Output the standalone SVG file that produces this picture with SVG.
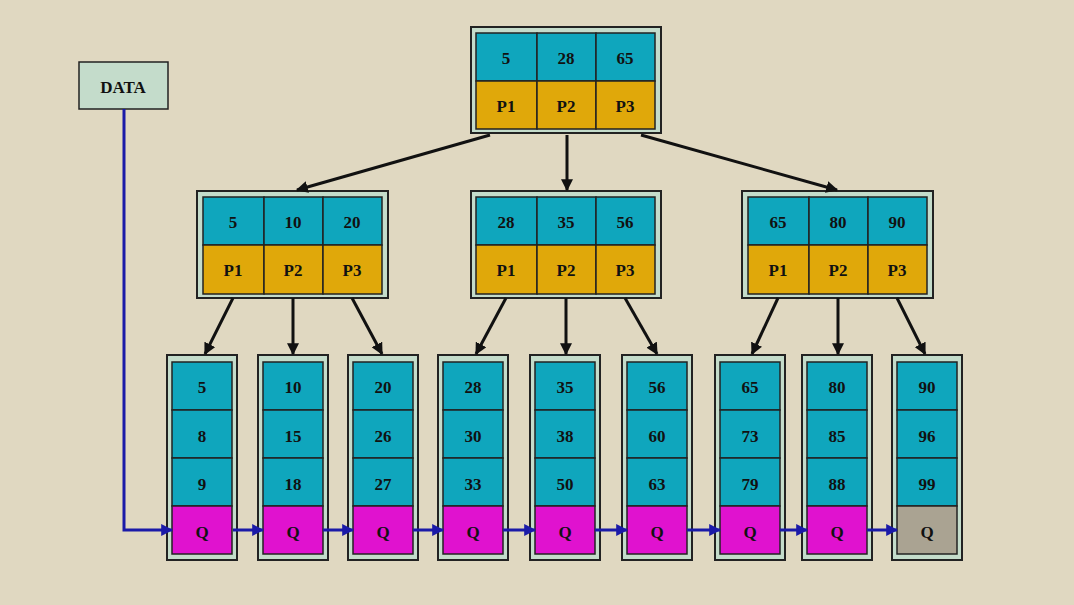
<svg xmlns="http://www.w3.org/2000/svg" width="1074" height="605" viewBox="0 0 1074 605">
<style>
text{font-family:"Liberation Serif",serif;font-weight:bold;font-size:17px;fill:#111;text-anchor:middle;dominant-baseline:central}
.o{fill:#c4dccb;stroke:#222;stroke-width:2}
.k{fill:#0fa6bd;stroke:#222;stroke-width:1.5}
.p{fill:#e0a80a;stroke:#222;stroke-width:1.5}
.q{fill:#e012cf;stroke:#222;stroke-width:1.5}
.g{fill:#aaa392;stroke:#222;stroke-width:1.5}
.a{stroke:#111;stroke-width:3;fill:none;marker-end:url(#ab)}
.b{stroke:#1a1aa8;stroke-width:3;fill:none;marker-end:url(#bb)}
</style>
<defs>
<marker id="ab" viewBox="0 0 10 10" refX="9" refY="5" markerWidth="4" markerHeight="4" orient="auto"><path d="M0,0L10,5L0,10z" fill="#111"/></marker>
<marker id="bb" viewBox="0 0 10 10" refX="9" refY="5" markerWidth="4" markerHeight="4" orient="auto"><path d="M0,0L10,5L0,10z" fill="#1a1aa8"/></marker>
</defs>
<rect width="1074" height="605" fill="#e0d8c1"/>
<g id="data"><rect x="79" y="62" width="89" height="47" fill="#c4dccb" stroke="#222" stroke-width="1.5"/><text x="123" y="87" font-size="16">DATA</text></g>
<g id="root"><rect class="o" x="471" y="27" width="190" height="106"/>
<rect class="k" x="476" y="33" width="61" height="48"/><rect class="k" x="537" y="33" width="59" height="48"/><rect class="k" x="596" y="33" width="59" height="48"/>
<rect class="p" x="476" y="81" width="61" height="48"/><rect class="p" x="537" y="81" width="59" height="48"/><rect class="p" x="596" y="81" width="59" height="48"/>
<text x="506" y="58">5</text><text x="566" y="58">28</text><text x="625" y="58">65</text><text x="506" y="106">P1</text><text x="566" y="106">P2</text><text x="625" y="106">P3</text></g>
<g id="m1"><rect class="o" x="197" y="191" width="191" height="107"/>
<rect class="k" x="203" y="197" width="61" height="48"/><rect class="k" x="264" y="197" width="59" height="48"/><rect class="k" x="323" y="197" width="59" height="48"/>
<rect class="p" x="203" y="245" width="61" height="49"/><rect class="p" x="264" y="245" width="59" height="49"/><rect class="p" x="323" y="245" width="59" height="49"/>
<text x="233" y="222">5</text><text x="293" y="222">10</text><text x="352" y="222">20</text><text x="233" y="270">P1</text><text x="293" y="270">P2</text><text x="352" y="270">P3</text></g>
<g id="m2"><rect class="o" x="471" y="191" width="190" height="107"/>
<rect class="k" x="476" y="197" width="61" height="48"/><rect class="k" x="537" y="197" width="59" height="48"/><rect class="k" x="596" y="197" width="59" height="48"/>
<rect class="p" x="476" y="245" width="61" height="49"/><rect class="p" x="537" y="245" width="59" height="49"/><rect class="p" x="596" y="245" width="59" height="49"/>
<text x="506" y="222">28</text><text x="566" y="222">35</text><text x="625" y="222">56</text><text x="506" y="270">P1</text><text x="566" y="270">P2</text><text x="625" y="270">P3</text></g>
<g id="m3"><rect class="o" x="742" y="191" width="191" height="107"/>
<rect class="k" x="748" y="197" width="61" height="48"/><rect class="k" x="809" y="197" width="59" height="48"/><rect class="k" x="868" y="197" width="59" height="48"/>
<rect class="p" x="748" y="245" width="61" height="49"/><rect class="p" x="809" y="245" width="59" height="49"/><rect class="p" x="868" y="245" width="59" height="49"/>
<text x="778" y="222">65</text><text x="838" y="222">80</text><text x="897" y="222">90</text><text x="778" y="270">P1</text><text x="838" y="270">P2</text><text x="897" y="270">P3</text></g>
<g id="l1" transform="translate(202,0)"><rect class="o" x="-35" y="355" width="70" height="205"/><rect class="k" x="-30" y="362" width="60" height="48"/><rect class="k" x="-30" y="410" width="60" height="48"/><rect class="k" x="-30" y="458" width="60" height="48"/><rect class="q" x="-30" y="506" width="60" height="48"/><text x="0" y="387">5</text><text x="0" y="436">8</text><text x="0" y="484">9</text><text x="0" y="532">Q</text></g>
<g id="l2" transform="translate(293,0)"><rect class="o" x="-35" y="355" width="70" height="205"/><rect class="k" x="-30" y="362" width="60" height="48"/><rect class="k" x="-30" y="410" width="60" height="48"/><rect class="k" x="-30" y="458" width="60" height="48"/><rect class="q" x="-30" y="506" width="60" height="48"/><text x="0" y="387">10</text><text x="0" y="436">15</text><text x="0" y="484">18</text><text x="0" y="532">Q</text></g>
<g id="l3" transform="translate(383,0)"><rect class="o" x="-35" y="355" width="70" height="205"/><rect class="k" x="-30" y="362" width="60" height="48"/><rect class="k" x="-30" y="410" width="60" height="48"/><rect class="k" x="-30" y="458" width="60" height="48"/><rect class="q" x="-30" y="506" width="60" height="48"/><text x="0" y="387">20</text><text x="0" y="436">26</text><text x="0" y="484">27</text><text x="0" y="532">Q</text></g>
<g id="l4" transform="translate(473,0)"><rect class="o" x="-35" y="355" width="70" height="205"/><rect class="k" x="-30" y="362" width="60" height="48"/><rect class="k" x="-30" y="410" width="60" height="48"/><rect class="k" x="-30" y="458" width="60" height="48"/><rect class="q" x="-30" y="506" width="60" height="48"/><text x="0" y="387">28</text><text x="0" y="436">30</text><text x="0" y="484">33</text><text x="0" y="532">Q</text></g>
<g id="l5" transform="translate(565,0)"><rect class="o" x="-35" y="355" width="70" height="205"/><rect class="k" x="-30" y="362" width="60" height="48"/><rect class="k" x="-30" y="410" width="60" height="48"/><rect class="k" x="-30" y="458" width="60" height="48"/><rect class="q" x="-30" y="506" width="60" height="48"/><text x="0" y="387">35</text><text x="0" y="436">38</text><text x="0" y="484">50</text><text x="0" y="532">Q</text></g>
<g id="l6" transform="translate(657,0)"><rect class="o" x="-35" y="355" width="70" height="205"/><rect class="k" x="-30" y="362" width="60" height="48"/><rect class="k" x="-30" y="410" width="60" height="48"/><rect class="k" x="-30" y="458" width="60" height="48"/><rect class="q" x="-30" y="506" width="60" height="48"/><text x="0" y="387">56</text><text x="0" y="436">60</text><text x="0" y="484">63</text><text x="0" y="532">Q</text></g>
<g id="l7" transform="translate(750,0)"><rect class="o" x="-35" y="355" width="70" height="205"/><rect class="k" x="-30" y="362" width="60" height="48"/><rect class="k" x="-30" y="410" width="60" height="48"/><rect class="k" x="-30" y="458" width="60" height="48"/><rect class="q" x="-30" y="506" width="60" height="48"/><text x="0" y="387">65</text><text x="0" y="436">73</text><text x="0" y="484">79</text><text x="0" y="532">Q</text></g>
<g id="l8" transform="translate(837,0)"><rect class="o" x="-35" y="355" width="70" height="205"/><rect class="k" x="-30" y="362" width="60" height="48"/><rect class="k" x="-30" y="410" width="60" height="48"/><rect class="k" x="-30" y="458" width="60" height="48"/><rect class="q" x="-30" y="506" width="60" height="48"/><text x="0" y="387">80</text><text x="0" y="436">85</text><text x="0" y="484">88</text><text x="0" y="532">Q</text></g>
<g id="l9" transform="translate(927,0)"><rect class="o" x="-35" y="355" width="70" height="205"/><rect class="k" x="-30" y="362" width="60" height="48"/><rect class="k" x="-30" y="410" width="60" height="48"/><rect class="k" x="-30" y="458" width="60" height="48"/><rect class="g" x="-30" y="506" width="60" height="48"/><text x="0" y="387">90</text><text x="0" y="436">96</text><text x="0" y="484">99</text><text x="0" y="532">Q</text></g>
<g id="connectors">
<path class="a" d="M490,135L297,190"/><path class="a" d="M567,135V190"/><path class="a" d="M641,135L837,190"/>
<path class="a" d="M233,298L205,354"/><path class="a" d="M293,298V354"/><path class="a" d="M352,298L382,354"/>
<path class="a" d="M506,298L476,354"/><path class="a" d="M566,298V354"/><path class="a" d="M625,298L657,354"/>
<path class="a" d="M778,298L752,354"/><path class="a" d="M838,298V354"/><path class="a" d="M897,298L925,354"/>
<path class="b" d="M124,109V530H172"/>
<path class="b" d="M233,530H263"/><path class="b" d="M323,530H353"/><path class="b" d="M413,530H443"/><path class="b" d="M503,530H535"/><path class="b" d="M595,530H627"/><path class="b" d="M687,530H720"/><path class="b" d="M780,530H807"/><path class="b" d="M867,530H897"/>
</g>
</svg>
